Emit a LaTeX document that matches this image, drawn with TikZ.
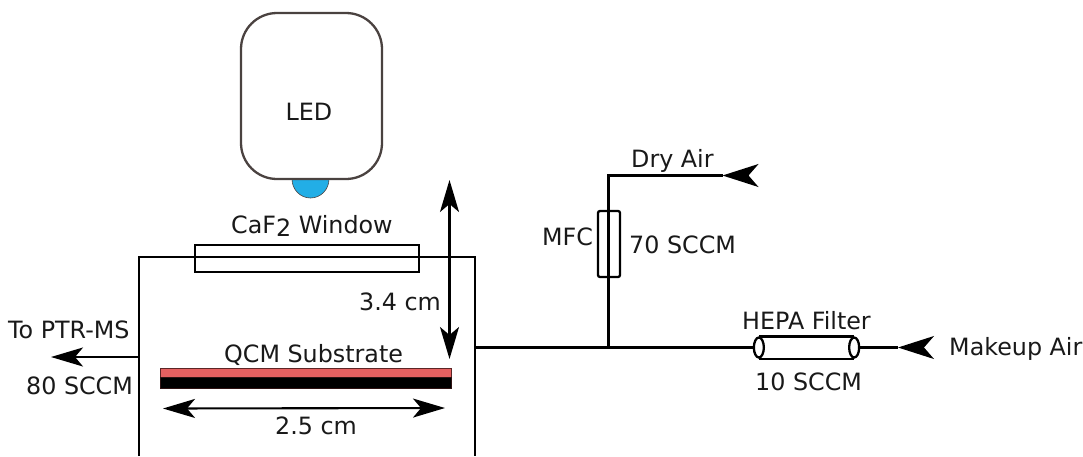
\documentclass[tikz,border=0pt]{standalone}
\usepackage{fontspec}
\setmainfont{DejaVu Sans}
\usetikzlibrary{arrows.meta,calc}
\definecolor{ledgrey}{HTML}{4A4240}
\definecolor{ledblue}{HTML}{22AEE6}
\definecolor{subred}{HTML}{E56060}
\begin{document}
\begin{tikzpicture}[x=1pt,y=-1pt,
  wire/.style={draw=black,line width=2.3pt},
  barb/.style={line width=1.5pt,-{Stealth[length=36pt,width=23pt,inset=10pt]}},
  dim/.style={line width=2.1pt},
  lbl/.style={anchor=base west,inner sep=0pt,font=\fontsize{23.8}{28}\selectfont,text=black!90},
  cbl/.style={anchor=base,inner sep=0pt,font=\fontsize{23.8}{28}\selectfont,text=black!90},
  box/.style={draw=black,line width=2.3pt,fill=none,inner sep=0pt,minimum width=0pt,minimum height=0pt}]
\useasboundingbox (0,0) rectangle (1083,456);
% LED
\fill[ledblue,draw=ledgrey,line width=0.6pt] (292,179) arc[start angle=180,end angle=360,x radius=18.5,y radius=-19] -- cycle;
\node[draw=ledgrey,line width=2.3pt,fill=white,rounded corners=36pt,minimum width=141pt,minimum height=166pt,inner sep=0pt] (led) at (311.5,96) {};
\node[cbl] (ledt) at (309,120) {LED};
% chamber
\coordinate (chBL) at (138.7,456);
\coordinate (chBR) at (475,456);
\coordinate (chTL) at (138.7,257);
\coordinate (chTR) at (475,257);
\draw[wire] (chBL) -- (chTL) -- (chTR) -- (chBR);
\node[box,minimum width=224pt,minimum height=27pt] (win) at (307,258.5) {};
\node[lbl] (wint) at (231,233) {CaF\raisebox{-3pt}{2} Window};
% substrate
\node[draw=black!60!subred,line width=0.6pt,fill=subred,minimum width=291pt,minimum height=8.5pt,inner sep=0pt] (red) at (305.5,373) {};
\node[draw=black!80!subred,line width=0.6pt,fill=black,minimum width=291pt,minimum height=11pt,inner sep=0pt] (blk) at (305.5,382.5) {};
\node[lbl] (qcmt) at (224,362) {QCM Substrate};
% dimension arrows
\coordinate (va) at (449.5,180);
\coordinate (vb) at (449.5,359);
\draw[dim,{Stealth[length=32pt,width=19pt,inset=8pt]}-{Stealth[length=32pt,width=19pt,inset=8pt]}] (va) -- (vb);
\node[lbl] (d34) at (359,310) {3.4 cm};
\coordinate (ha) at (163,408.5);
\coordinate (hb) at (445,408);
\draw[dim,{Stealth[length=32pt,width=19pt,inset=8pt]}-{Stealth[length=32pt,width=19pt,inset=8pt]}] (ha) -- (hb);
\node[lbl] (d25) at (275,434) {2.5 cm};
% outlet
\coordinate (outa) at (138.7,357);
\coordinate (outb) at (51,357);
\draw[dim,-{Stealth[length=32pt,width=19pt,inset=8pt]}] (outa) -- (outb);
\node[lbl] (ptr) at (8,338) {To PTR-MS};
\node[lbl] (s80) at (26,394) {80 SCCM};
% main line
\coordinate (port) at (475,347.5);
\coordinate (junc) at (608.5,347.5);
\coordinate (corner) at (608.5,175.5);
\coordinate (drytip) at (722.5,175.5);
\coordinate (drynotch) at (748,175.5);
\coordinate (mktip) at (898,347.5);
\coordinate (mknotch) at (924,347.5);
% filter
\node[box,draw=none,minimum width=93pt,minimum height=20pt] (hepa) at (806.5,347.5) {};
\draw[wire] (hepa.north west) -- (hepa.north east) (hepa.south west) -- (hepa.south east);
\draw[wire] (hepa.west) ellipse[x radius=5,y radius=10];
\draw[wire] (hepa.east) ellipse[x radius=5,y radius=10];
\draw[wire] (port) -- (junc) -- ($(hepa.west)+(-5,0)$);
\draw[wire] ($(hepa.east)+(5,0)$) -- (mktip);
\draw[barb] (mknotch) -- (mktip);
% MFC
\node[draw=black,line width=2.3pt,rounded corners=2pt,minimum width=22pt,minimum height=66pt,inner sep=0pt] (mfc) at (609,244) {};
\draw[wire] (junc) -- (corner) -- (drytip);
\draw[barb] (drynotch) -- (drytip);
\node[lbl] (dryt) at (631,167) {Dry Air};
\node[lbl] (mfct) at (542,245) {MFC};
\node[lbl] (s70) at (629,253) {70 SCCM};
\node[lbl] (hepat) at (742,329) {HEPA Filter};
\node[lbl] (s10) at (755,390) {10 SCCM};
\node[lbl] (mkt) at (949,355) {Makeup Air};
\end{tikzpicture}
\end{document}
